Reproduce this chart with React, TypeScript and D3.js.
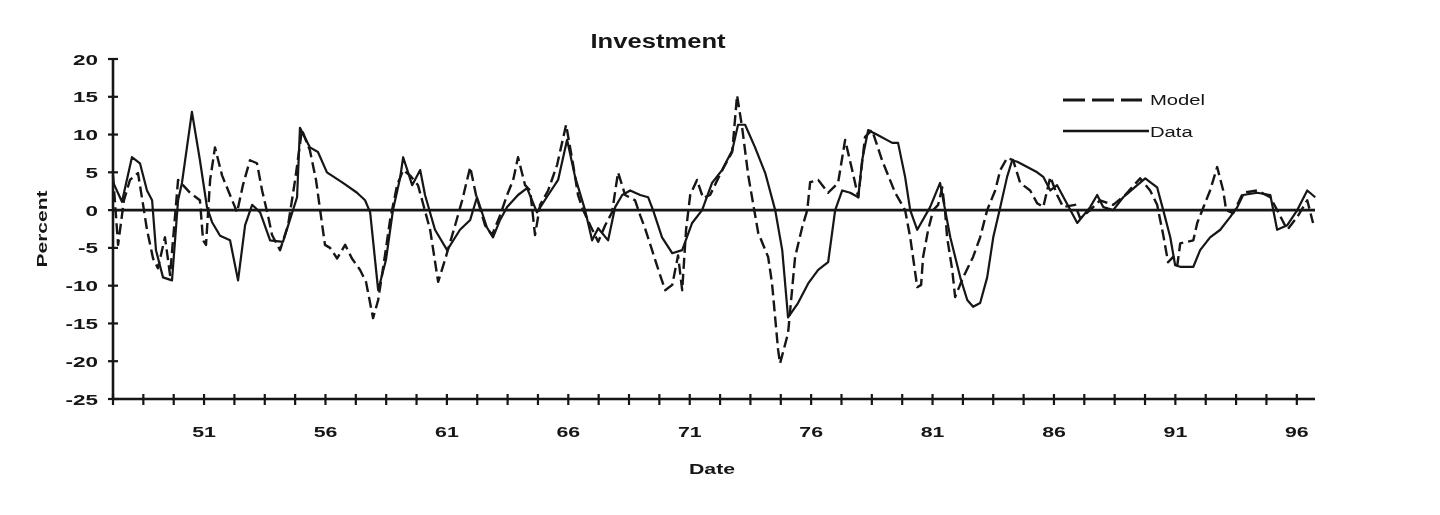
import * as d3 from "d3";
import React from "react";

// Investment: quarterly deviations, model vs data (percent)
const dataDates = [
	1947.25, 1947.62, 1948.03, 1948.36, 1948.65, 1948.86, 1949.02, 1949.31, 1949.68, 1949.93,
	1950.09, 1950.5, 1950.83, 1951.12, 1951.33, 1951.66, 1952.07, 1952.4, 1952.69, 1952.98,
	1953.31, 1953.72, 1954.25, 1954.83, 1954.95, 1955.36, 1955.69, 1956.06, 1956.72, 1957.3,
	1957.63, 1957.84, 1958.17, 1958.49, 1958.78, 1959.07, 1959.2, 1959.57, 1959.9, 1960.1,
	1960.51, 1961.01, 1961.54, 1961.96, 1962.24, 1962.65, 1962.9, 1963.19, 1963.48, 1963.93,
	1964.3, 1964.71, 1965.17, 1965.58, 1965.95, 1966.28, 1966.69, 1966.98, 1967.23, 1967.64,
	1967.93, 1968.22, 1968.55, 1968.96, 1969.29, 1969.49, 1969.86, 1970.28, 1970.69, 1971.1,
	1971.51, 1971.92, 1972.33, 1972.75, 1972.99, 1973.28, 1973.69, 1974.11, 1974.52, 1974.81,
	1975.05, 1975.46, 1975.88, 1976.29, 1976.7, 1976.99, 1977.28, 1977.61, 1977.94, 1978.1,
	1978.35, 1978.76, 1979.34, 1979.58, 1979.87, 1980.08, 1980.37, 1980.9, 1981.31, 1981.52,
	1981.73, 1982.14, 1982.43, 1982.67, 1982.96, 1983.25, 1983.5, 1983.79, 1984.07, 1984.28,
	1984.49, 1984.9, 1985.31, 1985.56, 1985.85, 1986.13, 1986.46, 1986.96, 1987.49, 1987.78,
	1988.03, 1988.44, 1988.85, 1989.43, 1989.76, 1989.96, 1990.25, 1990.5, 1990.79, 1990.99,
	1991.2, 1991.74, 1992.02, 1992.43, 1992.85, 1993.26, 1993.55, 1993.79, 1994.37, 1994.91,
	1995.19, 1995.61, 1996.02, 1996.43, 1996.76,
];
const dataValues = [
	3.7, 1.1, 7.0, 6.2, 2.6, 1.3, -5.3, -8.9, -9.3, 1.3,
	3.6, 13.0, 6.6, 0.4, -1.6, -3.4, -4.0, -9.3, -2.0, 0.7,
	-0.3, -4.0, -4.2, 1.7, 10.9, 8.3, 7.7, 5.0, 3.6, 2.3,
	1.3, -0.3, -10.6, -6.6, 0.0, 4.2, 7.0, 3.3, 5.3, 2.0,
	-2.6, -5.3, -2.6, -1.3, 1.7, -2.3, -3.6, -1.3, 0.4, 2.0,
	2.9, -0.3, 2.0, 4.0, 9.3, 4.4, 0.0, -4.0, -2.4, -4.0,
	0.4, 2.0, 2.6, 2.0, 1.7, 0.0, -3.6, -5.7, -5.3, -1.7,
	0.0, 3.6, 5.3, 7.9, 11.3, 11.3, 8.3, 4.9, 0.0, -5.3,
	-14.2, -12.3, -9.7, -7.9, -6.9, 0.0, 2.6, 2.3, 1.7, 6.6,
	10.6, 9.9, 8.9, 8.9, 4.4, 0.0, -2.6, 0.4, 3.6, 0.0,
	-3.6, -8.9, -11.9, -12.8, -12.3, -8.9, -3.6, 0.4, 4.4, 6.6,
	6.4, 5.7, 5.0, 4.4, 2.6, 3.3, 1.3, -1.7, 0.4, 2.0,
	0.4, 0.0, 1.7, 3.3, 4.2, 3.7, 3.0, 0.0, -3.6, -7.3,
	-7.5, -7.5, -5.3, -3.6, -2.6, -0.9, 0.4, 2.0, 2.3, 2.0,
	-2.6, -2.0, 0.0, 2.6, 1.7,
];

const modelDates = [
	1947.25, 1947.46, 1947.7, 1947.95, 1948.28, 1948.49, 1948.65, 1948.9, 1949.1, 1949.39,
	1949.6, 1949.93, 1950.13, 1950.42, 1950.83, 1950.96, 1951.08, 1951.25, 1951.45, 1951.74,
	1952.07, 1952.36, 1952.6, 1952.89, 1953.18, 1953.39, 1953.63, 1953.8, 1954.13, 1954.46,
	1954.75, 1955.03, 1955.36, 1955.61, 1955.78, 1955.98, 1956.19, 1956.48, 1956.81, 1957.09,
	1957.42, 1957.67, 1957.96, 1958.17, 1958.45, 1958.66, 1958.95, 1959.2, 1959.48, 1959.81,
	1959.98, 1960.31, 1960.64, 1960.92, 1961.34, 1961.63, 1961.96, 1962.2, 1962.57, 1962.86,
	1963.19, 1963.48, 1963.73, 1963.93, 1964.22, 1964.43, 1964.63, 1964.84, 1965.17, 1965.54,
	1965.91, 1966.2, 1966.4, 1966.61, 1966.9, 1967.23, 1967.52, 1967.8, 1968.05, 1968.34,
	1968.75, 1968.96, 1969.16, 1969.45, 1969.78, 1969.99, 1970.28, 1970.52, 1970.69, 1970.85,
	1971.02, 1971.3, 1971.55, 1971.84, 1972.17, 1972.46, 1972.75, 1972.95, 1973.16, 1973.41,
	1973.82, 1974.23, 1974.39, 1974.64, 1974.72, 1975.05, 1975.34, 1975.63, 1975.84, 1975.96,
	1976.29, 1976.7, 1977.11, 1977.4, 1977.69, 1977.94, 1978.22, 1978.51, 1978.92, 1979.46,
	1979.87, 1980.08, 1980.37, 1980.53, 1980.61, 1980.82, 1981.03, 1981.23, 1981.4, 1981.52,
	1981.6, 1981.81, 1981.93, 1982.26, 1982.67, 1982.96, 1983.25, 1983.58, 1983.79, 1984.07,
	1984.32, 1984.61, 1985.02, 1985.31, 1985.56, 1985.85, 1986.13, 1986.38, 1986.87, 1987.08,
	1987.49, 1987.9, 1988.44, 1988.93, 1989.55, 1989.96, 1990.25, 1990.5, 1990.7, 1990.91,
	1991.08, 1991.2, 1991.74, 1991.9, 1992.43, 1992.72, 1992.97, 1993.09, 1993.38, 1993.79,
	1994.37, 1994.91, 1995.19, 1995.61, 1996.02, 1996.43, 1996.67,
];
const modelValues = [
	4.6, -4.6, 1.3, 4.0, 4.9, 0.7, -2.6, -6.4, -7.7, -3.6,
	-8.6, 4.0, 3.3, 2.3, 1.3, -4.0, -4.6, 4.0, 8.3, 4.6,
	2.0, -0.3, 3.3, 6.6, 6.2, 2.6, -0.7, -3.3, -5.3, -2.0,
	4.0, 10.6, 7.9, 4.0, 0.0, -4.6, -5.0, -6.4, -4.6, -6.4,
	-7.9, -9.5, -14.3, -11.9, -6.0, -1.3, 3.3, 5.3, 4.6, 3.3,
	1.3, -2.6, -9.5, -6.6, -2.0, 1.3, 5.7, 2.0, -2.0, -3.3,
	-0.7, 2.0, 4.0, 7.0, 3.3, 2.6, -3.3, 0.7, 2.6, 6.0,
	11.3, 6.0, 2.0, 0.0, -2.0, -4.2, -2.0, -0.3, 5.0, 2.0,
	1.3, -0.7, -2.4, -5.3, -8.6, -10.6, -9.9, -6.0, -10.6, -2.6,
	2.0, 4.0, 1.6, 2.0, 4.2, 6.0, 7.7, 15.2, 10.9, 4.6,
	-3.0, -6.2, -9.7, -18.5, -20.3, -16.3, -6.2, -2.3, 0.0, 3.7,
	4.0, 2.3, 3.6, 9.3, 5.3, 1.7, 9.7, 10.6, 6.6, 2.3,
	0.0, -3.6, -10.2, -9.9, -6.2, -2.6, 0.0, 0.7, 3.0, -0.3,
	-3.6, -7.9, -11.5, -8.9, -6.2, -3.6, 0.0, 2.6, 5.3, 6.9,
	6.6, 3.6, 2.6, 0.9, 0.4, 4.4, 2.0, 0.4, 0.7, -1.1,
	0.0, 1.3, 0.7, 2.0, 4.2, 2.6, 0.7, -3.3, -6.9, -6.2,
	-7.3, -4.4, -4.0, -1.7, 2.6, 5.7, 2.6, 0.0, -0.4, 2.3,
	2.6, 1.7, 0.0, -2.6, -0.9, 1.3, -1.7,
];

const yTicks = [-25, -20, -15, -10, -5, 0, 5, 10, 15, 20];
const xLabelYears = [1951, 1956, 1961, 1966, 1971, 1976, 1981, 1986, 1991, 1996];
const xLabels = ["51", "56", "61", "66", "71", "76", "81", "86", "91", "96"];
const seriesNames = ["Model", "Data"];

const FONT = "'Liberation Sans', Arial, sans-serif";
const INK = "#141414";

function Stretched({
	x,
	y,
	sx = 1.35,
	rotate = 0,
	anchor = "middle",
	size = 15,
	weight = "bold",
	children,
}: {
	x: number;
	y: number;
	sx?: number;
	rotate?: number;
	anchor?: string;
	size?: number;
	weight?: string;
	children: React.ReactNode;
}) {
	return (
		<text
			transform={`translate(${x},${y}) rotate(${rotate}) scale(${sx},1)`}
			textAnchor={anchor}
			fontFamily={FONT}
			fontSize={size}
			fontWeight={weight}
			fill={INK}
		>
			{children}
		</text>
	);
}

export default function App() {
	const width = 1440;
	const height = 515;
	const left = 113;
	const right = 1315;
	const top = 59;
	const bottom = 399;

	const x = d3.scaleLinear().domain([1947.25, 1996.75]).range([left, right]);
	const y = d3.scaleLinear().domain([-25, 20]).range([bottom, top]);

	const line = d3
		.line<[number, number]>()
		.x((d) => x(d[0]))
		.y((d) => y(d[1]));

	const dataPath = line(dataDates.map((d, i) => [d, dataValues[i]]));
	const modelPath = line(modelDates.map((d, i) => [d, modelValues[i]]));

	// tick marks every five quarters, labels every twenty
	const xTicks = d3.range(0, 40).map((i) => 1947.25 + i * 1.25);

	return (
		<svg
			width={width}
			height={height}
			style={{ position: "absolute", left: 0, top: 0, background: "#fff" }}
		>
			<defs>
				{/* the reference is a soft scan, so everything is slightly blurred */}
				<filter id="soft" x="-5%" y="-5%" width="110%" height="110%">
					<feGaussianBlur stdDeviation="0.6" />
				</filter>
			</defs>
			<g filter="url(#soft)">
				<Stretched x={658} y={48} size={20} sx={1.28}>
					Investment
				</Stretched>

				{/* y axis */}
				<line x1={left} x2={left} y1={top} y2={bottom} stroke={INK} strokeWidth={2.6} />
				{yTicks.map((t) => (
					<g key={t}>
						<line x1={left - 5} x2={left + 5} y1={y(t)} y2={y(t)} stroke={INK} strokeWidth={2.2} />
						<Stretched x={98} y={y(t) + 5.5} anchor="end" size={15.5} sx={1.45}>
							{t}
						</Stretched>
					</g>
				))}
				<Stretched x={47} y={229} rotate={-90} sx={1.4} size={15}>
					Percent
				</Stretched>

				{/* x axis */}
				<line x1={left} x2={right} y1={bottom} y2={bottom} stroke={INK} strokeWidth={2.6} />
				{xTicks.map((t) => (
					<line
						key={t}
						x1={x(t)}
						x2={x(t)}
						y1={bottom - 5}
						y2={bottom + 6}
						stroke={INK}
						strokeWidth={2.2}
					/>
				))}
				{xLabelYears.map((t, i) => (
					<Stretched key={t} x={x(t)} y={437} size={15} sx={1.42}>
						{xLabels[i]}
					</Stretched>
				))}
				<Stretched x={712} y={474} sx={1.42} size={15}>
					Date
				</Stretched>

				{/* zero line */}
				<line x1={left} x2={right} y1={y(0)} y2={y(0)} stroke={INK} strokeWidth={2.6} />

				{/* series */}
				<path
					d={modelPath ?? ""}
					fill="none"
					stroke={INK}
					strokeWidth={2.4}
					strokeDasharray="11,5"
					strokeLinejoin="round"
				/>
				<path
					d={dataPath ?? ""}
					fill="none"
					stroke={INK}
					strokeWidth={2.2}
					strokeLinejoin="round"
				/>

				{/* legend */}
				<line
					x1={1063}
					x2={1142}
					y1={100}
					y2={100}
					stroke={INK}
					strokeWidth={3}
					strokeDasharray="22,7"
				/>
				<Stretched x={1150} y={105} anchor="start" weight="normal" size={15}>
					{seriesNames[0]}
				</Stretched>
				<line x1={1063} x2={1149} y1={131} y2={131} stroke={INK} strokeWidth={2.6} />
				<Stretched x={1150} y={137} anchor="start" weight="normal" size={15}>
					{seriesNames[1]}
				</Stretched>
			</g>
		</svg>
	);
}
